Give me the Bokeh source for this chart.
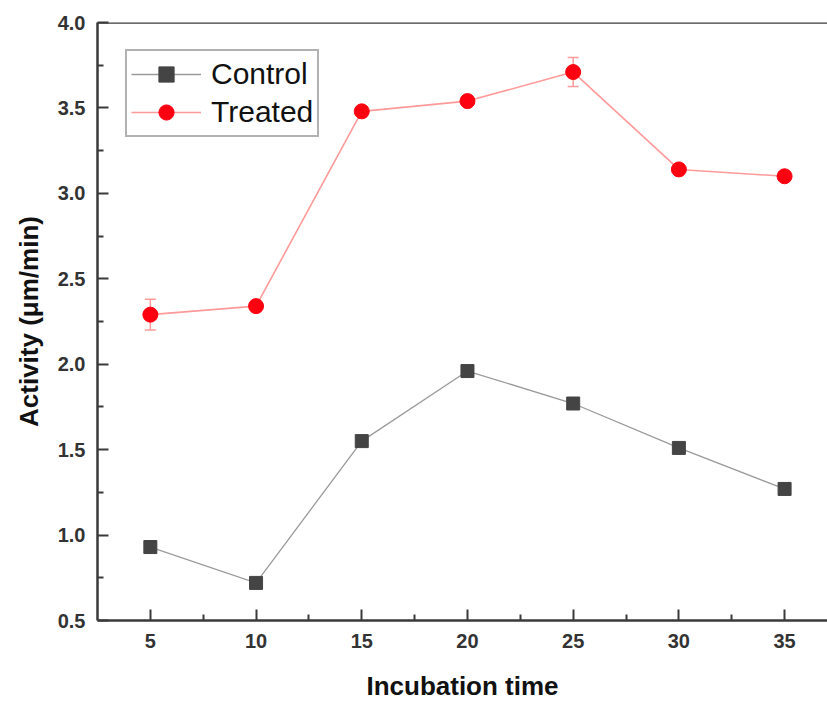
from bokeh.plotting import figure
from bokeh.models import (ColumnDataSource, Whisker, TeeHead, Span, Legend, LegendItem,
                          FixedTicker, Range1d, CustomJSTickFormatter)
from bokeh.embed import file_html
from bokeh.resources import INLINE

# ---- data ----
incubation_time = [5, 10, 15, 20, 25, 30, 35]
control = [0.93, 0.72, 1.55, 1.96, 1.77, 1.51, 1.27]
treated = [2.29, 2.34, 3.48, 3.54, 3.71, 3.14, 3.10]
treated_err = [0.09, 0.02, 0.02, 0.02, 0.085, 0.02, 0.02]
x_ticks = [5, 10, 15, 20, 25, 30, 35]
y_ticks = [0.5, 1.0, 1.5, 2.0, 2.5, 3.0, 3.5, 4.0]

FONT = "Liberation Sans"
AX = "#3a3a3a"

p = figure(width=827, height=704, output_backend="svg", toolbar_location=None,
           x_range=Range1d(2.5, 37.03), y_range=Range1d(0.5, 4.0),
           min_border_left=97, min_border_right=0, min_border_top=22, min_border_bottom=84)
p.outline_line_color = None
p.grid.visible = False
p.background_fill_color = "white"
p.border_fill_color = "white"

src_c = ColumnDataSource(dict(x=incubation_time, y=control))
lower = [t - e for t, e in zip(treated, treated_err)]
upper = [t + e for t, e in zip(treated, treated_err)]
src_t = ColumnDataSource(dict(x=incubation_time, y=treated, lower=lower, upper=upper))

lc = p.line("x", "y", source=src_c, line_color="#9a9a9a", line_width=1.3)
mc = p.scatter("x", "y", source=src_c, marker="square", size=13,
               fill_color="#444444", line_color="#444444")
lt = p.line("x", "y", source=src_t, line_color="#ff9a9a", line_width=1.6)
w = Whisker(source=src_t, base="x", lower="lower", upper="upper",
            line_color="#ff9a9a", line_width=1.5,
            upper_head=TeeHead(size=11, line_color="#ff9a9a", line_width=1.5),
            lower_head=TeeHead(size=11, line_color="#ff9a9a", line_width=1.5))
p.add_layout(w)
mt = p.scatter("x", "y", source=src_t, marker="circle", size=15,
               fill_color="#ff0010", line_color="#ff0010")

# top frame line
p.add_layout(Span(location=4.0, dimension="width", line_color=AX, line_width=2.5))

for ax in (p.xaxis[0], p.yaxis[0]):
    ax.axis_line_color = AX
    ax.axis_line_width = 2.5
    ax.major_tick_line_color = AX
    ax.major_tick_line_width = 2
    ax.minor_tick_line_color = AX
    ax.minor_tick_line_width = 2
    ax.major_tick_in = 11
    ax.major_tick_out = 0
    ax.minor_tick_in = 6
    ax.minor_tick_out = 0
    ax.major_label_text_font = FONT
    ax.major_label_text_font_style = "bold"
    ax.major_label_text_font_size = "20px"
    ax.major_label_text_color = "#333333"
    ax.axis_label_text_font = FONT
    ax.axis_label_text_font_style = "bold"
    ax.axis_label_text_font_size = "26px"
    ax.axis_label_text_color = "#111111"

p.xaxis.ticker = FixedTicker(ticks=x_ticks, minor_ticks=[7.5, 12.5, 17.5, 22.5, 27.5, 32.5])
p.yaxis.ticker = FixedTicker(ticks=y_ticks, minor_ticks=[0.75, 1.25, 1.75, 2.25, 2.75, 3.25, 3.75])
p.yaxis.formatter = CustomJSTickFormatter(code="return tick.toFixed(1);")
p.xaxis.major_label_standoff = 13
p.yaxis.major_label_standoff = 12
p.xaxis.axis_label = "Incubation time"
p.yaxis.axis_label = "Activity (μm/min)"
p.xaxis.axis_label_standoff = 20
p.yaxis.axis_label_standoff = 11

legend = Legend(items=[LegendItem(label="Control", renderers=[lc, mc]),
                       LegendItem(label="Treated", renderers=[lt, mt])],
                location=(28, 483))
legend.label_text_font = FONT
legend.label_text_font_size = "30px"
legend.label_text_color = "#111111"
legend.glyph_width = 70
legend.glyph_height = 38
legend.label_height = 38
legend.spacing = 0
legend.padding = 4
legend.margin = 0
legend.label_standoff = 10
legend.border_line_color = "#666666"
legend.border_line_width = 2
legend.background_fill_alpha = 1
p.add_layout(legend)

open("out.html", "w").write(file_html(p, INLINE))
